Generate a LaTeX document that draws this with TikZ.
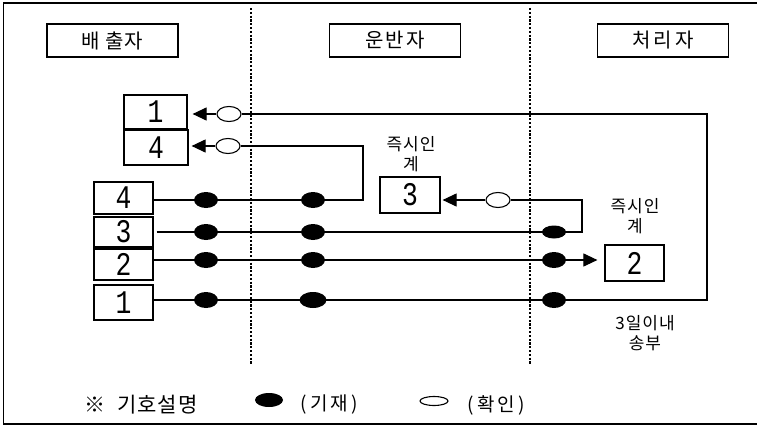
\documentclass[tikz,border=0pt]{standalone}
\usepackage{fontspec}
\setmainfont{Noto Sans CJK KR}
\newfontfamily\digitfont[FakeStretch=0.8]{Liberation Mono}
\usetikzlibrary{arrows.meta,shapes.geometric}
\newcommand{\dg}[1]{\raisebox{-3pt}{#1}}
\tikzset{
  frameline/.style={line width=1.5pt},
  head/.style={draw, line width=1.2pt, minimum width=131pt, minimum height=33pt, inner sep=0pt, font=\fontsize{20}{20}\selectfont},
  numbox/.style={draw, line width=1.2pt, inner sep=0pt, font=\digitfont\fontsize{33}{33}\selectfont},
  lane/.style={line width=1.1pt, dash pattern=on 2.2pt off 1.6pt},
  flow/.style={line width=1.1pt},
  arr/.style={line width=1.1pt, -{Triangle[length=14pt,width=13pt]}},
  fdot/.style={ellipse, fill=black, minimum width=24pt, minimum height=16pt, inner sep=0pt},
  odot/.style={ellipse, draw, line width=1.1pt, fill=white, minimum width=24pt, minimum height=15pt, inner sep=0pt},
  lbl/.style={align=center, inner sep=0pt, font=\fontsize{17}{20}\selectfont},
}
\begin{document}
\begin{tikzpicture}[x=1pt,y=-1pt]
\useasboundingbox (0,0) rectangle (757,428);
% frame (open on the right)
\draw[frameline] (757,3) -- (3.5,3) -- (3.5,424) -- (757,424);
% lanes
\draw[lane] (251,8) -- (251,364);
\draw[lane] (530,8) -- (530,365);
% headers
\node[head] (hA) at (112.5,40.5) {배\kern5pt 출\kern1pt 자};
\node[head] (hB) at (395,40.5) {운\kern2pt 반\kern2pt 자};
\node[head] (hC) at (663,40.5) {처\kern3pt 리\kern3pt 자};
% boxes of the generator
\node[numbox, minimum width=63pt, minimum height=34pt] (g1) at (155.5,112) {\dg{1}};
\node[numbox, minimum width=64pt, minimum height=35pt] (g4t) at (156,147.5) {\dg{4}};
\node[numbox, minimum width=59pt, minimum height=32pt] (b4) at (123.5,198) {\dg{4}};
\node[numbox, minimum width=59pt, minimum height=30pt] (b3) at (123.5,232) {\dg{3}};
\node[numbox, minimum width=59pt, minimum height=31pt] (b2) at (123.5,264.5) {\dg{2}};
\node[numbox, minimum width=59pt, minimum height=35pt] (b1) at (123.5,302.5) {\dg{1}};
% boxes of carrier / processor
\node[numbox, minimum width=60pt, minimum height=36pt] (t3) at (410,195) {\dg{3}};
\node[numbox, minimum width=59pt, minimum height=36pt] (p2) at (634.5,263) {\dg{2}};
% labels
\node[lbl] (l3) at (411,154) {즉\kern1pt 시\kern1pt 인\\계};
\node[lbl] (l2) at (635,216) {즉\kern1pt 시\kern1pt 인\\계};
\node[lbl] (l1) at (645,333) {3\kern1pt 일\kern1pt 이\kern1pt 내\\송\kern1pt 부};
% open circles
\node[odot] (o1) at (229,114) {};
\node[odot] (o4) at (228,146) {};
\node[odot] (o3) at (498,200) {};
% corner coordinates
\coordinate (k1a) at (707,300);
\coordinate (k1b) at (707,114);
\coordinate (k4a) at (363,200);
\coordinate (k4b) at (363,146);
\coordinate (k3a) at (582,232);
\coordinate (k3b) at (582,200);
% flows
\draw[flow] (b1.east |- 0,300) -- (k1a) -- (k1b) -- (o1.east);
\draw[arr] (o1.west) -- ([xshift=5pt]g1.east |- o1.west);
\draw[flow] (b4.east |- 0,200) -- (k4a) -- (k4b) -- (o4.east);
\draw[arr] (o4.west) -- ([xshift=3pt]g4t.east |- o4.west);
\draw[flow] ([xshift=3pt]b3.east |- 0,232) -- (k3a) -- (k3b) -- (o3.east);
\draw[arr] (o3.west) -- ([xshift=2pt]t3.east |- o3.west);
\draw[arr] (b2.east |- 0,260) -- ([xshift=-7pt]p2.west |- 0,260);
% filled dots
\node[fdot] (d41) at (206,200) {};
\node[fdot] (d42) at (313,200) {};
\node[fdot] (d31) at (206,232) {};
\node[fdot] (d32) at (313,232) {};
\node[fdot, minimum height=13pt] (d33) at (554,232) {};
\node[fdot] (d21) at (206,260) {};
\node[fdot] (d22) at (313,260) {};
\node[fdot] (d23) at (554,260) {};
\node[fdot] (d11) at (206,300) {};
\node[fdot, minimum width=27pt] (d12) at (313,300) {};
\node[fdot] (d13) at (554,300) {};
% legend
\node[anchor=west, inner sep=0pt, font=\fontsize{21}{21}\selectfont] (lg) at (84,405) {※\kern12pt 기\kern1pt 호\kern1pt 설\kern1pt 명};
\node[fdot, minimum width=28pt, minimum height=14pt] (lf) at (269,400) {};
\node[anchor=west, inner sep=0pt, font=\fontsize{19}{19}\selectfont] (lfl) at (300,405) {(\kern4pt 기\kern2pt 재\kern4pt)};
\node[odot, minimum width=28pt, minimum height=9pt] (lo) at (434,401) {};
\node[anchor=west, inner sep=0pt, font=\fontsize{19}{19}\selectfont] (lol) at (467,405) {(\kern4pt 확\kern2pt 인\kern4pt)};
\end{tikzpicture}
\end{document}
